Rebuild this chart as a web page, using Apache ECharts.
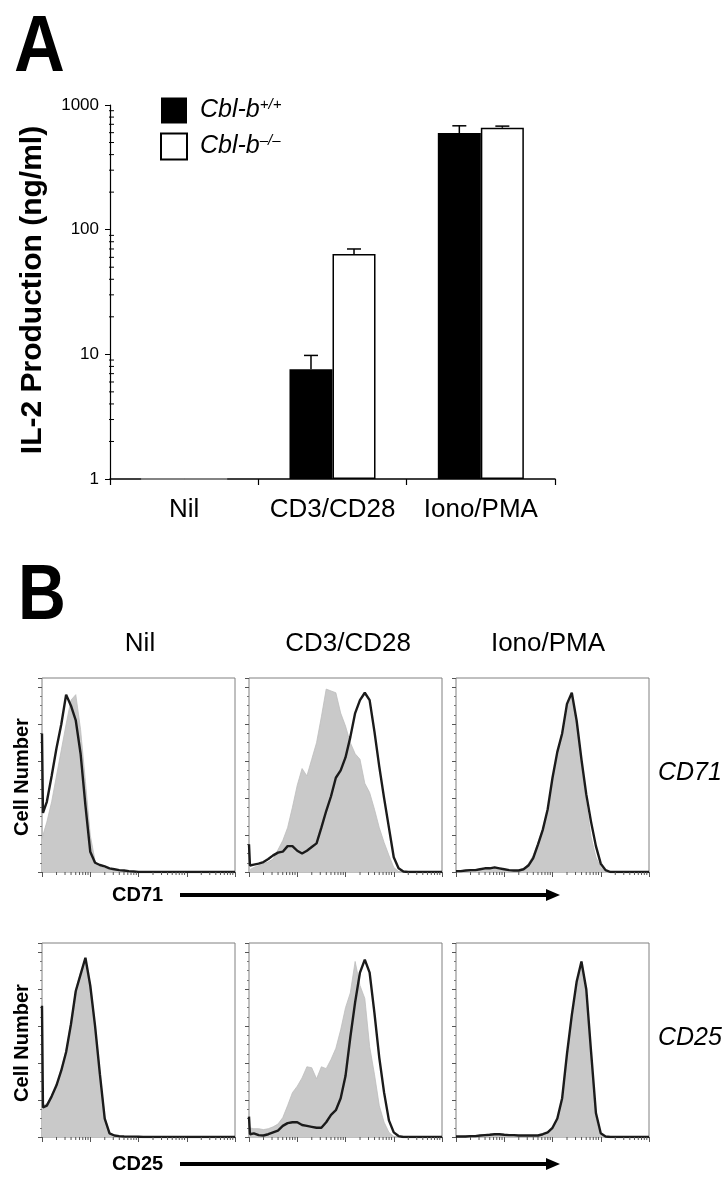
<!DOCTYPE html>
<html><head><meta charset="utf-8">
<script src="https://cdn.jsdelivr.net/npm/echarts@6/dist/echarts.min.js"></script>
<style>html,body{margin:0;padding:0;background:#fff}#c{width:728px;height:1196px}</style>
</head><body><div id="c"></div>
<script>
// ---------- Panel A data ----------
const CATEGORIES = ['Nil', 'CD3/CD28', 'Iono/PMA'];
const SERIES_NAMES = ['Cbl-b+/+', 'Cbl-b–/–'];
const WT_IL2 = [1, 7.6, 595];
const KO_IL2 = [1, 63.7, 657];
const WT_SD = [0, 2.2, 86];
const KO_SD = [0, 6.3, 20];
const Y_TICKS = [1, 10, 100, 1000];

// ---------- Panel B data (x in log decades of fluorescence, y = % of max) ----------
const CONDITIONS = ['Nil', 'CD3/CD28', 'Iono/PMA'];
const MARKERS = ['CD71', 'CD25'];
const CHANNEL = [0, 0.02, 0.1, 0.2, 0.3, 0.4, 0.5, 0.6, 0.7, 0.8, 0.9, 1.0, 1.1, 1.2, 1.3, 1.4, 1.5, 1.6, 1.7, 1.8, 1.9, 2.0, 2.1, 2.2, 2.3, 2.4, 2.5, 2.6, 2.7, 2.8, 2.9, 3.0, 3.1, 3.2, 3.3, 3.4, 3.5, 3.6, 3.7, 3.8, 3.9, 4.0];

const CD71_NIL_WT  = [18,20,27,38,52,66,80,93,96,77,49,20,6,3,2,1.5,1,0.8,0.5,0.4,0.2,0,0,0,0,0,0,0,0,0,0,0,0,0,0,0,0,0,0,0,0,0];
const CD71_NIL_KO  = [75,32,38,52,67,80,96,90,82,64,36,11,5,3.8,3,2,1.5,1,0.8,0.5,0.3,0,0,0,0,0,0,0,0,0,0,0,0,0,0,0,0,0,0,0,0,0];
const CD71_CD3_WT  = [1,2,2.5,3.5,4.5,5.5,7,12,17,24,35,47,56,52,61,70,84,99,98,97,86,79,70,64,61,48,43,34,24,16,9,2.5,0.3,0,0,0,0,0,0,0,0,0];
const CD71_CD3_KO  = [15,3.5,4,4.5,5.4,7,9,10.5,11,14,14,11.5,10,11.5,13.5,15.5,24,33,41,51,55,62,73,86,93,97,93,76,57,40,24,8,2,0.3,0,0,0,0,0,0,0,0];
const CD71_IONO_WT = [0.5,0.5,0.5,0.8,1,1.2,1.8,2.2,2.2,2.5,2,1.5,1,0.8,0.8,2,4.5,9,16,24,34,50,64,76,90,96,80,58,37,19,8,2.5,0.4,0,0,0,0,0,0,0,0,0];
const CD71_IONO_KO = [0.5,0.5,0.5,0.8,1,1,1.5,2,2,2.5,2,1.5,1,0.8,0.8,1.5,3.5,7.5,15,23,34,51,65,75,91,97,82,61,42,27,14,4.5,1,0,0,0,0,0,0,0,0,0];
const CD25_NIL_WT  = [17,17,18,22,28,37,47,62,80,89,96,83,61,35,11,2,0.8,0.5,0.3,0.2,0.2,0.1,0,0,0,0,0,0,0,0,0,0,0,0,0,0,0,0,0,0,0,0];
const CD25_NIL_KO  = [71,16,17,22,28,36,46,61,79,88,97,82,60,34,10,2,0.8,0.5,0.3,0.2,0.2,0.1,0,0,0,0,0,0,0,0,0,0,0,0,0,0,0,0,0,0,0,0];
const CD25_CD3_WT  = [5,5,4.5,4.5,4,4.5,5.5,7,10.5,17,24,27.5,32,38,37.5,31.5,38,37,42,48,58,70,78,95,82,75,49,34,17,8,2.5,0.3,0,0,0,0,0,0,0,0,0,0];
const CD25_CD3_KO  = [11,1.5,2,1,0.8,1.5,2.5,3.5,6,7.5,8,8,6.5,6,5.5,5,5,8,12,14.5,21,33,54,73,89,96,89,67,43,24,9,2.5,0.5,0,0,0,0,0,0,0,0,0];
const CD25_IONO_WT = [0.3,0.3,0.3,0.5,0.8,0.8,1,1.2,1.5,1.5,1.5,1.2,1,1,0.8,0.8,0.8,0.8,0.8,1.5,2.5,4.5,9,20,43,64,82,95,76,42,10,1.5,0.2,0,0,0,0,0,0,0,0,0];
const CD25_IONO_KO = [0.3,0.3,0.3,0.3,0.5,0.5,0.8,1,1.2,1.5,1.5,1.2,1,1,0.8,0.8,0.8,0.8,0.8,1.5,2.5,5,10,21,45,66,84,95,80,46,13,2,0.3,0,0,0,0,0,0,0,0,0];

const HIST = [
  [CD71_NIL_WT, CD71_NIL_KO], [CD71_CD3_WT, CD71_CD3_KO], [CD71_IONO_WT, CD71_IONO_KO],
  [CD25_NIL_WT, CD25_NIL_KO], [CD25_CD3_WT, CD25_CD3_KO], [CD25_IONO_WT, CD25_IONO_KO]
];

// ---------- layout / style ----------
const FONT = '"Liberation Sans", Arial, Helvetica, sans-serif';
const COLS = [42, 249, 456], ROWS = [678, 943], PW = 193, PH = 194;

// minor tick positions of a log axis (2..9 within each decade)
function logMinorValues(decades) {
  const out = [];
  for (let d = 0; d < decades; d++) for (let k = 2; k <= 9; k++) out.push(k * Math.pow(10, d));
  return out;
}
function logMinorDecades(decades) {
  return logMinorValues(decades).map(v => Math.log10(v));
}

const chart = echarts.init(document.getElementById('c'), null, { renderer: 'canvas' });

const grids = [{ left: 110, top: 105, width: 445, height: 374 }];
const xAxes = [{
  type: 'category', gridIndex: 0, data: CATEGORIES, position: 'bottom',
  axisLine: { lineStyle: { color: '#000', width: 1.5 } },
  axisTick: { show: true, length: 6, lineStyle: { color: '#000', width: 1.2 } },
  axisLabel: { color: '#000', fontSize: 26, fontFamily: FONT, margin: 18, interval: 0, hideOverlap: false },
  splitLine: { show: false }
}];
const yAxes = [{
  type: 'log', logBase: 10, gridIndex: 0, min: 1, max: 1000, position: 'left',
  axisLine: { show: true, lineStyle: { color: '#000', width: 1.2 } },
  axisTick: { show: true, length: 5, lineStyle: { color: '#000' } },
  axisLabel: { color: '#000', fontSize: 17, fontFamily: FONT, margin: 11,
    formatter: v => (Y_TICKS.indexOf(Math.round(v)) >= 0 ? String(Math.round(v)) : '') },
  splitLine: { show: false }
}];

function errRender(sign) {
  return function (params, api) {
    const i = api.value(0), v = api.value(1), hi = api.value(2);
    const band = api.size([1, 1])[0];
    const p0 = api.coord([i, v]);
    const p1 = api.coord([i, hi]);
    const cx = p0[0] + sign * band * 0.145;
    const st = { stroke: '#000', lineWidth: 1.5 };
    return { type: 'group', children: [
      { type: 'line', shape: { x1: cx, y1: p0[1], x2: cx, y2: p1[1] }, style: st },
      { type: 'line', shape: { x1: cx - 7, y1: p1[1], x2: cx + 7, y2: p1[1] }, style: st }
    ]};
  };
}

function barData(vals) {
  return vals.map(v => v <= 1 ? { value: v, itemStyle: { borderColor: '#9a9a9a', borderWidth: 1 } } : v);
}

const series = [
  { type: 'bar', name: SERIES_NAMES[0], xAxisIndex: 0, yAxisIndex: 0, data: barData(WT_IL2),
    barWidth: '29%', barGap: '0%', itemStyle: { color: '#000' } },
  { type: 'bar', name: SERIES_NAMES[1], xAxisIndex: 0, yAxisIndex: 0, data: barData(KO_IL2),
    barWidth: '29%', barGap: '0%', itemStyle: { color: '#fff', borderColor: '#000', borderWidth: 1.5 } },
  { type: 'custom', xAxisIndex: 0, yAxisIndex: 0, z: 5, renderItem: errRender(-1),
    data: CATEGORIES.map((c, i) => [i, WT_IL2[i], WT_IL2[i] + WT_SD[i]]).filter(d => d[2] > d[1]) },
  { type: 'custom', xAxisIndex: 0, yAxisIndex: 0, z: 5, renderItem: errRender(1),
    data: CATEGORIES.map((c, i) => [i, KO_IL2[i], KO_IL2[i] + KO_SD[i]]).filter(d => d[2] > d[1]) },
  // minor ticks of the log y axis, placed through the axis scale
  { type: 'custom', xAxisIndex: 0, yAxisIndex: 0, z: 6, silent: true,
    data: logMinorValues(3).map(v => [0, v]),
    renderItem: function (params, api) {
      const p = api.coord([0, api.value(1)]);
      const band = api.size([1, 1])[0];
      const x = p[0] - band / 2;
      return { type: 'line', shape: { x1: x - 1, y1: p[1], x2: x + 4, y2: p[1] }, style: { stroke: '#000', lineWidth: 1 } };
    } }
];

const HMINOR = logMinorDecades(4);
HIST.forEach((pair, idx) => {
  const r = Math.floor(idx / 3), c = idx % 3;
  const gi = grids.length;
  grids.push({ left: COLS[c], top: ROWS[r], width: PW, height: PH, show: true,
    borderColor: '#808080', borderWidth: 1, backgroundColor: 'transparent' });
  const xi = xAxes.length;
  xAxes.push({ type: 'value', gridIndex: gi, min: 0, max: 4, interval: 1, position: 'bottom',
    axisLine: { show: false }, axisLabel: { show: false }, splitLine: { show: false },
    axisTick: { show: true, length: 5, lineStyle: { color: '#555' } } });
  const yi = yAxes.length;
  yAxes.push({ type: 'value', gridIndex: gi, min: 0, max: 105, interval: 20, position: 'left',
    axisLine: { show: false }, axisLabel: { show: false }, splitLine: { show: false },
    axisTick: { show: true, length: 4, lineStyle: { color: '#555' } },
    minorTick: { show: true, splitNumber: 4, length: 2, lineStyle: { color: '#777' } } });
  series.push({ type: 'line', xAxisIndex: xi, yAxisIndex: yi, symbol: 'none', silent: true, z: 2,
    data: CHANNEL.map((x, j) => [x, pair[0][j]]),
    lineStyle: { color: '#bdbdbd', width: 0.8 }, areaStyle: { color: '#c9c9c9', opacity: 1 } });
  series.push({ type: 'line', xAxisIndex: xi, yAxisIndex: yi, symbol: 'none', silent: true, z: 3,
    data: CHANNEL.map((x, j) => [x, pair[1][j]]),
    lineStyle: { color: '#1b1b1b', width: 2.4 } });
  // minor log ticks on the fluorescence axis
  series.push({ type: 'custom', xAxisIndex: xi, yAxisIndex: yi, z: 6, silent: true, clip: false,
    data: HMINOR.map(d => [d, 0]),
    renderItem: function (params, api) {
      const p = api.coord([api.value(0), 0]);
      return { type: 'line', shape: { x1: p[0], y1: p[1], x2: p[0], y2: p[1] + 3 }, style: { stroke: '#555', lineWidth: 1 } };
    } });
});

function txt(x, y, s, font, opts) {
  opts = opts || {};
  return Object.assign({
    type: 'text', x: x, y: y, silent: true,
    style: { text: s, font: font, fill: '#000',
      align: opts.align || 'left', verticalAlign: 'middle',
      textAlign: opts.align || 'left', textVerticalAlign: 'middle' }
  }, opts.el || {});
}

const graphic = [
  txt(14, 49, 'A', 'bold 80px ' + FONT, { el: { scaleX: 0.88 } }),
  txt(18, 598, 'B', 'bold 77px ' + FONT, { el: { scaleX: 0.86 } }),
  txt(33, 290, 'IL-2 Production (ng/ml)', 'bold 30px ' + FONT, { align: 'center', el: { rotation: Math.PI / 2 } }),
  txt(140, 644, CONDITIONS[0], '26px ' + FONT, { align: 'center' }),
  txt(348, 644, CONDITIONS[1], '26px ' + FONT, { align: 'center' }),
  txt(548, 644, CONDITIONS[2], '26px ' + FONT, { align: 'center' }),
  txt(22, 777, 'Cell Number', 'bold 20px ' + FONT, { align: 'center', el: { rotation: Math.PI / 2 } }),
  txt(22, 1043, 'Cell Number', 'bold 20px ' + FONT, { align: 'center', el: { rotation: Math.PI / 2 } }),
  txt(658, 773, MARKERS[0], 'italic 25px ' + FONT),
  txt(658, 1038, MARKERS[1], 'italic 25px ' + FONT),
  txt(112, 895, MARKERS[0], 'bold 20px ' + FONT),
  txt(112, 1164, MARKERS[1], 'bold 20px ' + FONT)
];
[895, 1164].forEach(y => {
  graphic.push({ type: 'line', silent: true, shape: { x1: 180, y1: y, x2: 550, y2: y }, style: { stroke: '#000', lineWidth: 4 } });
  graphic.push({ type: 'polygon', silent: true, shape: { points: [[546, y - 6], [560, y], [546, y + 6]] }, style: { fill: '#000' } });
});

chart.setOption({
  animation: false,
  backgroundColor: '#fff',
  textStyle: { fontFamily: FONT },
  grid: grids,
  xAxis: xAxes,
  yAxis: yAxes,
  legend: {
    data: SERIES_NAMES, orient: 'vertical', left: 155, top: 92, selectedMode: false,
    itemWidth: 26, itemHeight: 26, itemGap: 9, icon: 'rect',
    formatter: n => n === SERIES_NAMES[0] ? '{a|Cbl-b}{s|+/+}' : '{a|Cbl-b}{s|–/–}',
    textStyle: { rich: {
      a: { fontSize: 25, fontStyle: 'italic', fontFamily: FONT, color: '#000', padding: [0, 0, 0, 8] },
      s: { fontSize: 15, fontStyle: 'italic', fontFamily: FONT, color: '#000', padding: [0, 0, 12, 0] }
    } }
  },
  series: series,
  graphic: graphic
});
</script></body></html>
